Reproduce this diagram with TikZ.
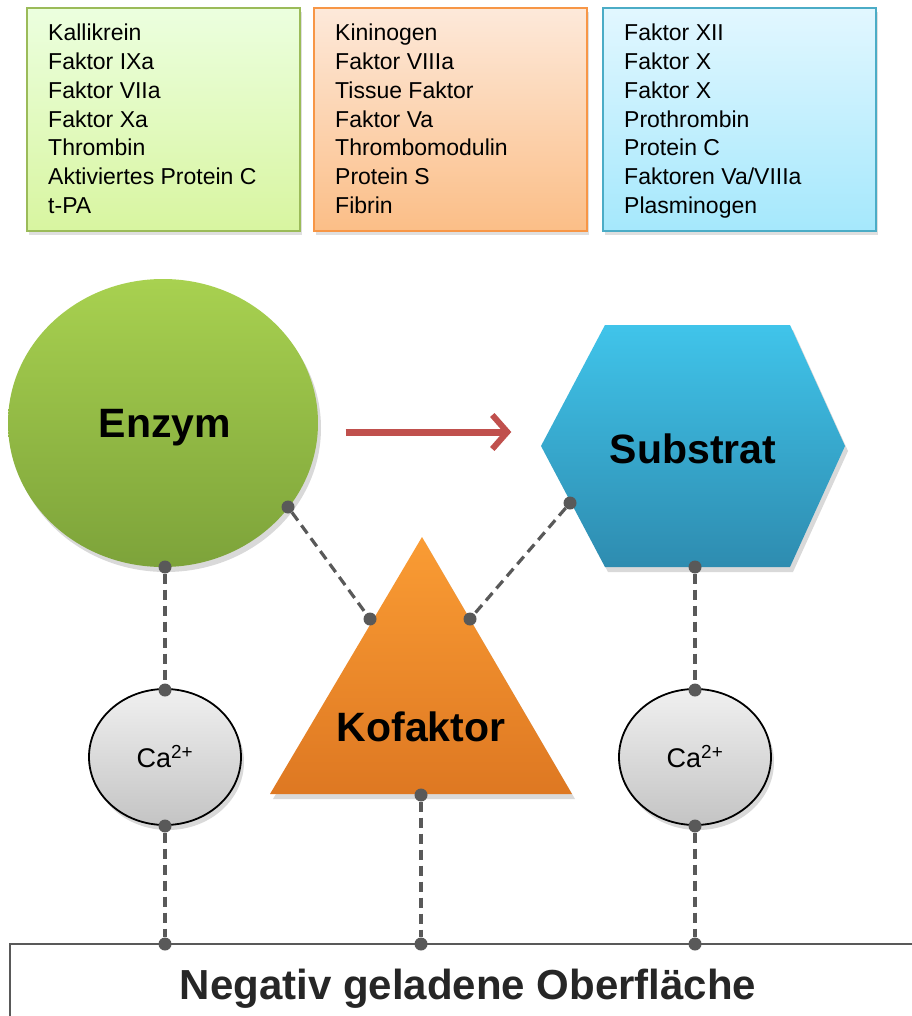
\documentclass[tikz,border=0pt]{standalone}
\usepackage{fontspec}
\setmainfont{Liberation Sans}
\usetikzlibrary{shapes.geometric,shadows,arrows.meta}
\definecolor{dotgray}{HTML}{595959}
\definecolor{grnline}{HTML}{9BBB59}
\definecolor{orgline}{HTML}{F79646}
\definecolor{bluline}{HTML}{4BACC6}
\definecolor{arrred}{HTML}{C0504D}
\tikzset{
  listbox/.style={line width=1.6pt, drop shadow={opacity=0.25, shadow xshift=2pt, shadow yshift=-4pt}},
  listtext/.style={anchor=base west, inner sep=0pt, font=\fontsize{23}{27}\selectfont},
  dotnode/.style={circle, fill=dotgray, inner sep=0pt, minimum size=13pt},
  dashline/.style={draw=dotgray, line width=3.2pt, dash pattern=on 10pt off 6pt},
  bigtext/.style={font=\bfseries\fontsize{41}{48}\selectfont},
  shapeshadow/.style={drop shadow={opacity=0.3, shadow xshift=3pt, shadow yshift=-5pt}},
  caellipse/.style={ellipse, draw=black, line width=1.8pt, minimum width=152pt, minimum height=136pt, shapeshadow,
    top color={rgb,255:red,240;green,240;blue,240}, bottom color={rgb,255:red,196;green,196;blue,196},
    font=\fontsize{27}{31}\selectfont},
}
\begin{document}
\begin{tikzpicture}[x=1pt,y=-1pt]
\useasboundingbox (0,0) rectangle (911,1016);
% list boxes
\path[listbox, draw=grnline, top color=green!8!white!95!yellow, bottom color={rgb,255:red,216;green,245;blue,160}] (27,8) rectangle (300,231);
\path[listbox, draw=orgline, top color={rgb,255:red,253;green,233;blue,218}, bottom color={rgb,255:red,251;green,190;blue,135}] (314,8) rectangle (587,231);
\path[listbox, draw=bluline, top color={rgb,255:red,226;green,247;blue,255}, bottom color={rgb,255:red,165;green,232;blue,252}] (603,8) rectangle (876,231);
\foreach \t [count=\i from 0] in {Kallikrein,Faktor IXa,Faktor VIIa,Faktor Xa,Thrombin,Aktiviertes Protein C,t-PA}
  \node[listtext] (g\i) at (48,41+28.7*\i) {\t};
\foreach \t [count=\i from 0] in {Kininogen,Faktor VIIIa,Tissue Faktor,Faktor Va,Thrombomodulin,Protein S,Fibrin}
  \node[listtext] (o\i) at (335,41+28.7*\i) {\t};
\foreach \t [count=\i from 0] in {Faktor XII,Faktor X,Faktor X,Prothrombin,Protein C,Faktoren Va/VIIIa,Plasminogen}
  \node[listtext] (b\i) at (624,41+28.7*\i) {\t};
% surface
\path[draw=dotgray, line width=1.8pt, fill=white] (10,944) rectangle (925,1030);
\node[font=\bfseries\fontsize{42}{49}\selectfont, text={rgb,255:red,38;green,38;blue,38}] (surf) at (468,989) {Negativ geladene Oberfläche};
% Enzym
\node[ellipse, minimum width=310pt, minimum height=288pt, shapeshadow,
  top color={rgb,255:red,168;green,209;blue,80}, bottom color={rgb,255:red,125;green,163;blue,58}] (enzym) at (163,423) {};
\node[bigtext] (enzymtxt) at (165,428) {Enzym};
% Substrat hexagon
\path[shapeshadow, top color={rgb,255:red,64;green,196;blue,234}, bottom color={rgb,255:red,46;green,140;blue,176}]
  (605,325) -- (790,325) -- (845,446) -- (790,567) -- (605,567) -- (541,446) -- cycle;
\node[bigtext] (subtxt) at (693,449) {Substrat};
% Kofaktor triangle
\path[shapeshadow, top color={rgb,255:red,250;green,156;blue,52}, bottom color={rgb,255:red,222;green,120;blue,34}]
  (422,537) -- (572,794) -- (270,794) -- cycle;
\node[bigtext] (koftxt) at (421,727) {Kofaktor};
% Ca circles
\node[caellipse] (ca1) at (165,757) {Ca\textsuperscript{2+}};
\node[caellipse] (ca2) at (695,757) {Ca\textsuperscript{2+}};
% arrow
\node[inner sep=0pt] (arrs) at (345,432) {};
\node[inner sep=0pt] (arre) at (512,432) {};
\draw[arrred, line width=7pt, -{Straight Barb[length=15pt,width=34pt,line width=6pt]}] (arrs) -- (arre);
% dots
\node[dotnode] (d1) at (165,567) {};
\node[dotnode] (d2) at (165,690) {};
\node[dotnode] (d3) at (165,826) {};
\node[dotnode] (d4) at (165,944) {};
\node[dotnode] (d5) at (288,507) {};
\node[dotnode] (d6) at (370,619) {};
\node[dotnode] (d7) at (470,619) {};
\node[dotnode] (d8) at (570,503) {};
\node[dotnode] (d9) at (421,795) {};
\node[dotnode] (d10) at (421,944) {};
\node[dotnode] (d11) at (695,567) {};
\node[dotnode] (d12) at (695,690) {};
\node[dotnode] (d13) at (695,826) {};
\node[dotnode] (d14) at (695,944) {};
% dashed connectors
\draw[dashline] (d1) -- (d2);
\draw[dashline] (d3) -- (d4);
\draw[dashline] (d5) -- (d6);
\draw[dashline] (d8) -- (d7);
\draw[dashline] (d9) -- (d10);
\draw[dashline] (d11) -- (d12);
\draw[dashline] (d13) -- (d14);
\end{tikzpicture}
\end{document}
